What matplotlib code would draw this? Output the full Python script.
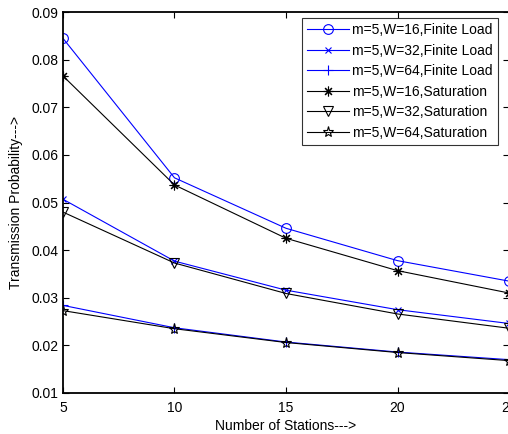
import matplotlib
matplotlib.use("Agg")
import matplotlib.pyplot as plt

plt.rcParams["font.family"] = ["Liberation Sans", "DejaVu Sans"]

stations = [5, 10, 15, 20, 25]

finite_w16 = [0.0845, 0.0552, 0.0446, 0.0378, 0.0335]
finite_w32 = [0.0507, 0.0377, 0.0316, 0.0275, 0.0246]
finite_w64 = [0.0284, 0.0237, 0.0207, 0.0186, 0.0170]
sat_w16 = [0.0766, 0.0537, 0.0425, 0.0357, 0.0310]
sat_w32 = [0.0480, 0.0373, 0.0309, 0.0266, 0.0236]
sat_w64 = [0.0273, 0.0235, 0.0206, 0.0185, 0.0168]

labels = [
    "m=5,W=16,Finite Load",
    "m=5,W=32,Finite Load",
    "m=5,W=64,Finite Load",
    "m=5,W=16,Saturation",
    "m=5,W=32,Saturation",
    "m=5,W=64,Saturation",
]

fig = plt.figure(figsize=(5.08, 4.34), dpi=100)
ax = fig.add_axes([0.124, 0.0945, 0.878, 0.8775])

lw = 0.8
ax.plot(stations, finite_w16, color="blue", lw=lw, marker="o", ms=7,
        mfc="none", mew=0.8, label=labels[0])
ax.plot(stations, finite_w32, color="blue", lw=lw, marker="x", ms=5,
        mew=0.8, label=labels[1])
ax.plot(stations, finite_w64, color="blue", lw=lw, marker="+", ms=7,
        mew=0.8, label=labels[2])
ax.plot(stations, sat_w16, color="black", lw=lw, marker=(8, 2, 0), ms=7,
        mew=0.8, label=labels[3])
ax.plot(stations, sat_w32, color="black", lw=lw, marker="v", ms=7,
        mfc="none", mew=0.8, label=labels[4])
ax.plot(stations, sat_w64, color="black", lw=lw, marker="*", ms=8,
        mfc="none", mew=0.8, label=labels[5])

ax.set_xlim(5, 25)
ax.set_ylim(0.01, 0.09)
ax.set_xticks(stations)
ax.set_yticks([0.01, 0.02, 0.03, 0.04, 0.05, 0.06, 0.07, 0.08, 0.09])
ax.set_yticklabels(["0.01", "0.02", "0.03", "0.04", "0.05", "0.06",
                    "0.07", "0.08", "0.09"])
ax.tick_params(direction="in", top=True, right=True, labelsize=10,
               length=4, width=0.8)
ax.tick_params(axis="x", pad=6)
for s in ax.spines.values():
    s.set_linewidth(1.3)

ax.set_xlabel("Number of Stations--->", fontsize=10, labelpad=3)
ax.set_ylabel("Transmission Probability--->", fontsize=10, labelpad=6)

leg = ax.legend(loc="upper right", bbox_to_anchor=(0.975, 0.984),
                fontsize=10, frameon=True, fancybox=False,
                edgecolor="black", handlelength=3.0, borderpad=0.35,
                labelspacing=0.47, handletextpad=0.25, borderaxespad=0)
leg.get_frame().set_linewidth(0.8)

fig.savefig("out.png", dpi=100)
